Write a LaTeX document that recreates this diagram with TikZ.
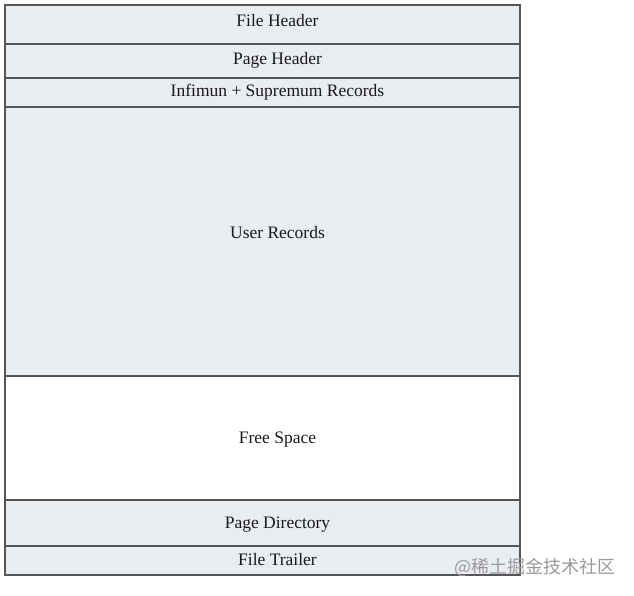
\documentclass[tikz,border=0pt]{standalone}
\usepackage{fontspec}
\setmainfont{Liberation Serif}
\newfontfamily\cjkfont{Noto Sans CJK SC}
\definecolor{secfill}{HTML}{E9ECF1}
\definecolor{secline}{HTML}{555555}
\definecolor{wmark}{HTML}{9A9A9A}
\begin{document}
\begin{tikzpicture}[x=1pt,y=-1pt,
  sec/.style={draw=secline, line width=1.3pt, fill=secfill, minimum width=515pt,
    inner sep=0pt, outer sep=0pt, anchor=north west},
  freesec/.style={sec, fill=white},
  lbl/.style={text=black!90, inner sep=0pt, font=\fontsize{17.5}{19}\selectfont}]
\useasboundingbox (0,0) rectangle (634,595);
\node[sec, minimum height=39pt] (fh) at (5,5) {};
\node[sec, minimum height=34pt] (ph) at (5,44) {};
\node[sec, minimum height=29pt] (inf) at (5,78) {};
\node[sec, minimum height=269pt] (ur) at (5,107) {};
\node[freesec, minimum height=124pt] (fs) at (5,376) {};
\node[sec, minimum height=46pt] (pd) at (5,500) {};
\node[sec, minimum height=29pt] (ft) at (5,546) {};
\node[lbl] (tfh) at ([xshift=15pt,yshift=4pt]fh.center) {File Header};
\node[lbl] (tph) at ([xshift=15pt,yshift=1pt]ph.center) {Page Header};
\node[lbl] (tinf) at ([xshift=15pt,yshift=0pt]inf.center) {Infimun + Supremum Records};
\node[lbl] (tur) at ([xshift=15pt,yshift=9pt]ur.center) {User Records};
\node[lbl] (tfs) at ([xshift=15pt,yshift=-2pt]fs.center) {Free Space};
\node[lbl] (tpd) at ([xshift=15pt,yshift=-2pt]pd.center) {Page Directory};
\node[lbl] (tft) at ([xshift=15pt,yshift=0.5pt]ft.center) {File Trailer};
\node[text=wmark, font=\fontsize{18}{20}\cjkfont, anchor=east, inner sep=0pt] (wm) at (616,567) {@稀土掘金技术社区};
\end{tikzpicture}
\end{document}
